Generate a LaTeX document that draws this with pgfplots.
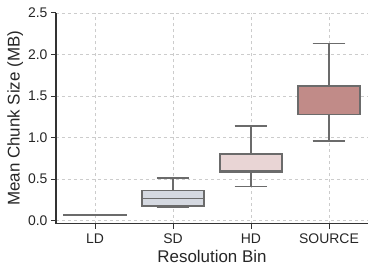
\documentclass[border=0pt]{standalone}
\usepackage{fontspec}
\setmainfont{Liberation Sans}
\usepackage{pgfplots}
\pgfplotsset{compat=1.18}
\usepgfplotslibrary{statistics}
\definecolor{edgec}{HTML}{6B6B6B}
\definecolor{ldc}{HTML}{C9CEDA}
\definecolor{sdc}{HTML}{D5D9E1}
\definecolor{hdc}{HTML}{E9D5D5}
\definecolor{srcc}{HTML}{C18B88}
\definecolor{gridc}{HTML}{CCCCCC}
\definecolor{axc}{HTML}{333333}
\begin{document}
\begin{tikzpicture}[x=1bp,y=1bp]
\begin{axis}[
  name=ax,
  scale only axis,
  width=312bp, height=210.7bp,
  xmin=-0.5, xmax=3.5,
  ymin=-0.036, ymax=2.5,
  axis x line*=bottom, axis y line*=left,
  axis line style={axc, line width=1.3pt},
  xtick={0,1,2,3},
  xticklabels={LD,SD,HD,SOURCE},
  ytick={0,0.5,1,1.5,2,2.5},
  yticklabel style={/pgf/number format/.cd, fixed, fixed zerofill, precision=1},
  /pgf/number format/assume math mode=true,
  tick style={axc, line width=1pt},
  tick align=outside,
  major tick length=5bp,
  grid=major,
  grid style={gridc, dashed, line width=0.6pt},
  ticklabel style={font=\fontsize{14}{16}\selectfont, text=black!85},
  xticklabel style={yshift=-1.5bp},
  xlabel={Resolution Bin},
  ylabel={Mean Chunk Size (MB)},
  label style={font=\fontsize{17}{20}\selectfont, text=black!85},
  xlabel style={yshift=0bp},
  ylabel style={yshift=-2bp},
  boxplot/draw direction=y,
  boxplot/box extend=0.8,
  boxplot/whisker extend=0.42,
]
\addplot+[boxplot prepared={draw position=0, lower whisker=0.062, lower quartile=0.064, median=0.065, upper quartile=0.066, upper whisker=0.068},
  draw=edgec, fill=ldc, line width=1.5pt, solid, mark=none] coordinates {};
\addplot+[boxplot prepared={draw position=1, lower whisker=0.162, lower quartile=0.178, median=0.27, upper quartile=0.362, upper whisker=0.512},
  draw=edgec, fill=sdc, line width=1.5pt, solid, mark=none] coordinates {};
\addplot+[boxplot prepared={draw position=2, lower whisker=0.41, lower quartile=0.58, median=0.60, upper quartile=0.805, upper whisker=1.14},
  draw=edgec, fill=hdc, line width=1.5pt, solid, mark=none] coordinates {};
\addplot+[boxplot prepared={draw position=3, lower whisker=0.96, lower quartile=1.277, median=1.615, upper quartile=1.625, upper whisker=2.13},
  draw=edgec, fill=srcc, line width=1.5pt, solid, mark=none] coordinates {};
\end{axis}
\path ([shift={(-56bp,-50.3bp)}]ax.south west) ([shift={(6bp,13bp)}]ax.north east);
\end{tikzpicture}
\end{document}
